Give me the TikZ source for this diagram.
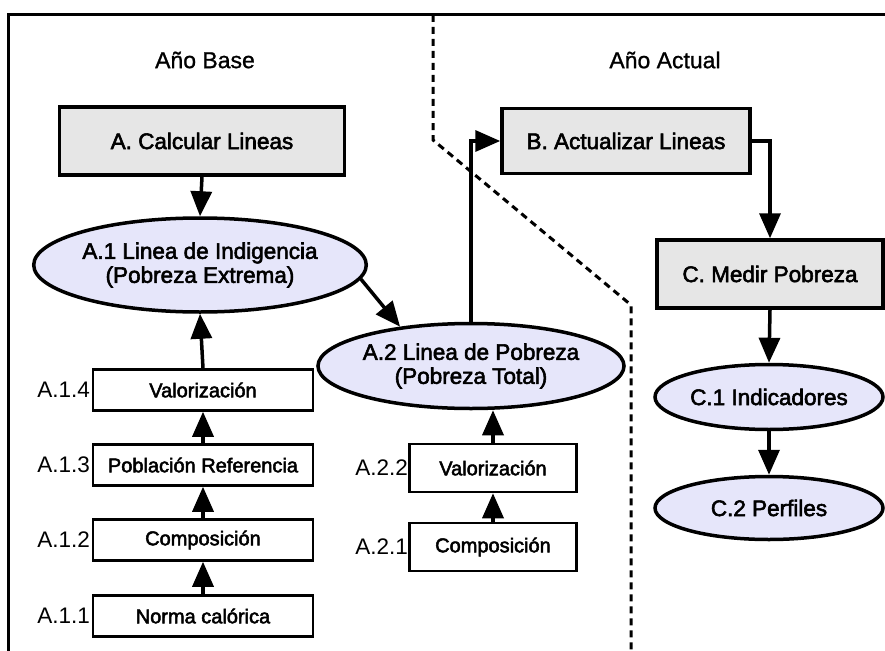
\documentclass[tikz,border=0pt]{standalone}
\usepackage{fontspec}
\setmainfont{Liberation Sans}
\newfontfamily\heavyfont[FakeBold=2.5]{Liberation Sans}
\newfontfamily\midfont[FakeBold=1]{Liberation Sans}
\usetikzlibrary{arrows.meta,shapes.geometric}
\definecolor{boxgray}{HTML}{E6E6E6}
\definecolor{lav}{HTML}{E6E6FA}
\begin{document}
\begin{tikzpicture}[x=1pt,y=-1pt,
  bigbox/.style={draw, line width=3.5pt, fill=boxgray, inner sep=0pt,
    font=\fontsize{22.5}{24}\selectfont\heavyfont},
  ell/.style={ellipse, draw, line width=3.5pt, fill=lav, inner sep=0pt, align=center,
    font=\fontsize{22.5}{24}\selectfont\heavyfont},
  smallbox/.style={draw, line width=2.5pt, fill=white, inner sep=0pt,
    minimum width=220pt, minimum height=41pt, font=\fontsize{20}{22}\selectfont\heavyfont},
  smallboxb/.style={smallbox, minimum width=167pt, minimum height=48pt},
  lbl/.style={anchor=east, inner sep=0pt, font=\fontsize{22.5}{24}\selectfont},
  head/.style={inner sep=0pt, font=\fontsize{23}{24}\selectfont\midfont},
  arr/.style={line width=3.5pt, -{Triangle[length=25pt,width=21pt]}},
  sep/.style={line width=3pt, dash pattern=on 7pt off 5pt}
]
\useasboundingbox (0,0) rectangle (885,650);
\clip (0,0) rectangle (885,650);
% frame
\draw[line width=3pt] (8.5,15) rectangle (900,670);
% separator
\coordinate (s1) at (433,15);
\coordinate (s2) at (433,140);
\coordinate (s3) at (631,305);
\coordinate (s4) at (631,660);
\draw[sep] (s1) -- (s2) -- (s3) -- (s4);
% headings
\node[head] (hbase) at (205,60) {Año Base};
\node[head] (hact) at (665,60) {Año Actual};
% main boxes
\node[bigbox, minimum width=285pt, minimum height=68pt] (A) at (202,141) {A. Calcular Lineas};
\node[bigbox, minimum width=248pt, minimum height=65pt] (B) at (626,141) {B. Actualizar Lineas};
\node[bigbox, minimum width=226pt, minimum height=68pt] (C) at (770,274) {C. Medir Pobreza};
% ellipses
\node[ell, minimum width=290pt, minimum height=94pt] (A1) at (200,265) {A.1 Linea de Indigencia\\(Pobreza Extrema)};
\node[ell, minimum width=292pt, minimum height=85pt] (A2) at (471,366) {A.2 Linea de Pobreza\\(Pobreza Total)};
\node[ell, minimum width=228pt, minimum height=65pt] (C1) at (769,397) {C.1 Indicadores};
\node[ell, minimum width=228pt, minimum height=63pt] (C2) at (769,508) {C.2 Perfiles};
% small boxes A.1.x
\node[smallbox] (A14) at (203,390) {Valorización};
\node[smallbox] (A13) at (203,465) {Población Referencia};
\node[smallbox] (A12) at (203,540) {Composición};
\node[smallbox] (A11) at (203,616) {Norma calórica};
\node[lbl] (l14) at (90,390) {A.1.4};
\node[lbl] (l13) at (90,465) {A.1.3};
\node[lbl] (l12) at (90,540) {A.1.2};
\node[lbl] (l11) at (90,616) {A.1.1};
% small boxes A.2.x
\node[smallboxb] (A22) at (493,468) {Valorización};
\node[smallboxb] (A21) at (493,547) {Composición};
\node[lbl] (l22) at (408,468) {A.2.2};
\node[lbl] (l21) at (408,547) {A.2.1};
% connectors
\draw[arr] (A.south) -- (A1.north);
\draw[arr] (A1.-5) -- (A2.151);
\draw[arr] (A2.north) |- (B.west);
\draw[arr] (B.east) -| (C.north);
\draw[arr] (C.south) -- (C1.north);
\draw[arr] (C1.south) -- (C2.north);
\draw[arr] (A11.north) -- (A12.south);
\draw[arr] (A12.north) -- (A13.south);
\draw[arr] (A13.north) -- (A14.south);
\draw[arr] (A14.north) -- (A1.south);
\draw[arr] (A21.north) -- (A22.south);
\draw[arr] (A22.north) -- (A22.north |- A2.south);
\end{tikzpicture}
\end{document}
